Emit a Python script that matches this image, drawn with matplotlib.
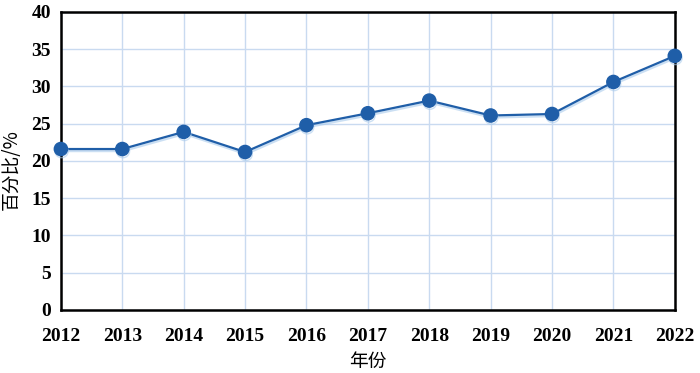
import matplotlib
matplotlib.use("Agg")
import matplotlib.pyplot as plt
import matplotlib.patheffects as pe

years = [2012, 2013, 2014, 2015, 2016, 2017, 2018, 2019, 2020, 2021, 2022]
percent = [21.6, 21.6, 23.9, 21.2, 24.8, 26.4, 28.1, 26.1, 26.3, 30.6, 34.1]
yticks = [0, 5, 10, 15, 20, 25, 30, 35, 40]

fig = plt.figure(figsize=(7, 3.73), dpi=100)
ax = fig.add_axes([0.087, 0.169, 0.877, 0.799])

ax.plot(years, percent, color="#1f5ea8", lw=1.6, marker="o", ms=9.5,
        markerfacecolor="#1f5ea8", markeredgecolor="#1f5ea8", clip_on=False, zorder=5,
        path_effects=[pe.SimpleLineShadow(offset=(0.5, -1.5), shadow_color="#a9cbec", alpha=0.6),
                      pe.Normal()])

ax.set_xlim(2012, 2022)
ax.set_ylim(0, 40)
ax.set_xticks(years)
ax.set_yticks(yticks)
ax.grid(True, color="#c9daf0", lw=1.0)
ax.set_axisbelow(True)
for s in ax.spines.values():
    s.set_color("black")
    s.set_linewidth(1.8)
ax.tick_params(axis="x", length=0, pad=13)
ax.tick_params(axis="y", length=0, pad=7)
for lab in ax.get_xticklabels() + ax.get_yticklabels():
    lab.set_fontfamily("Liberation Serif")
    lab.set_fontweight("bold")
    lab.set_fontsize(14)
ax.set_xlabel("年份", fontfamily=["Noto Sans CJK SC"], fontsize=13.5, labelpad=4)
ax.set_ylabel("百分比/%", fontfamily=["Noto Sans CJK SC", "DejaVu Sans"], fontsize=13.5, labelpad=6)
ax.yaxis.set_label_coords(-0.064, 0.47)

fig.savefig("out.png", dpi=100)
